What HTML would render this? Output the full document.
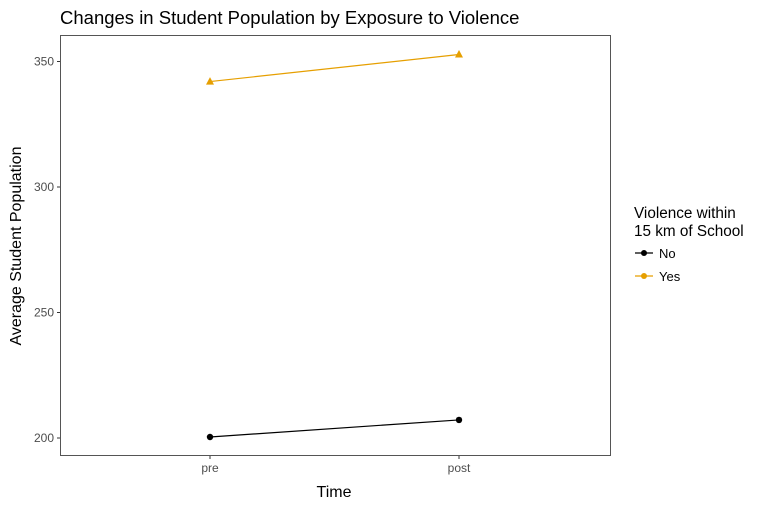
<!DOCTYPE html>
<html><head><meta charset="utf-8"><style>
body{margin:0;background:#fff;font-family:"Liberation Sans",Arial,sans-serif}
</style></head><body>
<svg id="c" width="761" height="504" xmlns="http://www.w3.org/2000/svg">
<text x="60" y="24" font-size="18.5" fill="#000">Changes in Student Population by Exposure to Violence</text>
<rect x="60.5" y="35.5" width="550" height="420" fill="none" stroke="#555"/>
<g id="axes"></g>
<g id="marks"></g>
<text x="334" y="497" font-size="16" text-anchor="middle">Time</text>
<text transform="translate(21,246) rotate(-90)" font-size="16" text-anchor="middle">Average Student Population</text>
<text x="634" y="218" font-size="15.3">Violence within</text>
<text x="634" y="236" font-size="15.3">15 km of School</text>
<g><line x1="635" y1="253" x2="653" y2="253" stroke="#000" stroke-width="1.2"/><circle cx="644" cy="253" r="3" fill="#000"/><text x="659" y="258" font-size="13">No</text></g>
<g><line x1="635" y1="276" x2="653" y2="276" stroke="#E69F00" stroke-width="1.2"/><circle cx="644" cy="276" r="3" fill="#E69F00"/><text x="659" y="281" font-size="13">Yes</text></g>
</svg>
<script>
const categories=["pre","post"];
const yTicks=[200,250,300,350];
const noValues=[200.4,207.2];
const yesValues=[342,352.8];
const NS="http://www.w3.org/2000/svg";
function xS(i){return 210+i*249;}
function yS(v){return 438-(v-200)*125.5/50;}
function mk(t,a,p){const e=document.createElementNS(NS,t);for(const k in a)e.setAttribute(k,a[k]);p.appendChild(e);return e;}
const ax=document.getElementById('axes'),mg=document.getElementById('marks');
yTicks.forEach(v=>{
 const l=mk('line',{x1:57,x2:60,y1:yS(v),y2:yS(v),stroke:'#333'},ax);
 
 
 const t=mk('text',{x:54,y:yS(v)+4,'font-size':12,'text-anchor':'end',fill:'#4d4d4d'},ax);t.textContent=v;
 
 
});
categories.forEach((c,i)=>{
 const l=mk('line',{x1:xS(i),x2:xS(i),y1:456,y2:459,stroke:'#333'},ax);
 
 
 const t=mk('text',{x:xS(i),y:472,'font-size':12,'text-anchor':'middle',fill:'#4d4d4d'},ax);t.textContent=c;
 
 
});
function series(vals,col,shape,name){
 const pl=mk('polyline',{points:vals.map((v,i)=>xS(i)+','+yS(v)).join(' '),fill:'none',stroke:col,'stroke-width':1.2},mg);
 
 
 vals.forEach((v,i)=>{
  const x=xS(i),y=yS(v);let p;
  if(shape==='tri')p=mk('polygon',{points:`${x},${y-4.5} ${x-4},${y+3} ${x+4},${y+3}`,fill:col},mg);
  else p=mk('circle',{cx:x,cy:y,r:3.2,fill:col},mg);
  
  
 });
}
series(noValues,'#000','circle','no');
series(yesValues,'#E69F00','tri','yes');
</script>
</body></html>
